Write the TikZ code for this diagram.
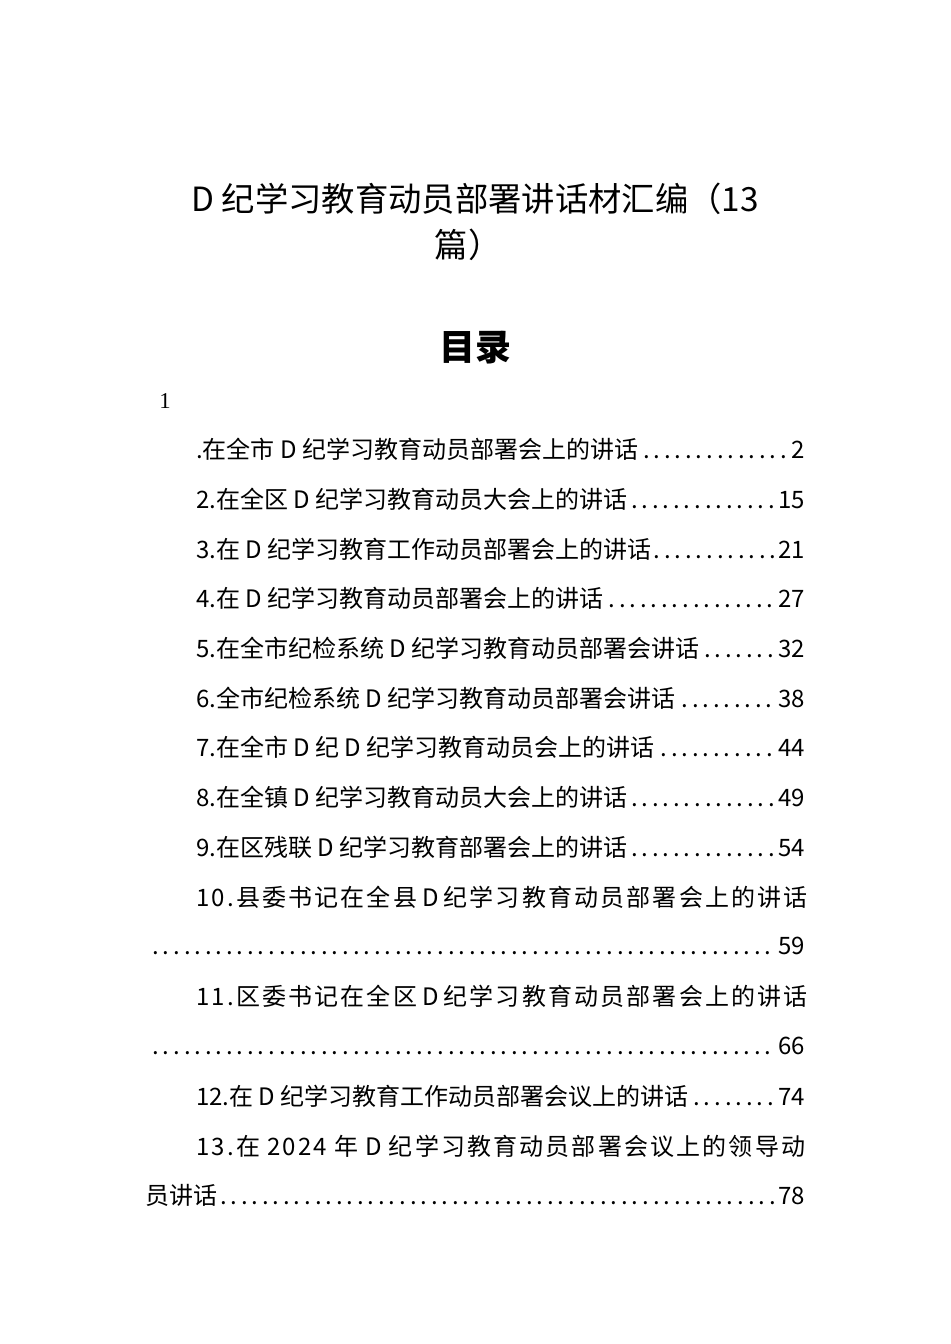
\documentclass[tikz,border=0pt]{standalone}
\usepackage{fontspec}
\setmainfont{Noto Sans CJK SC}
\newfontfamily\spaced[LetterSpace=9]{Noto Sans CJK SC}
\newfontfamily\serifnum{Liberation Serif}
\begin{document}
\begin{tikzpicture}[x=0.75pt,y=-0.75pt,
  toc/.style={anchor=base west,inner sep=0,font=\fontsize{18pt}{18pt}\selectfont}]
\useasboundingbox (0,0) rectangle (950,1344);
\node[font=\fontsize{25pt}{25pt}\selectfont,anchor=base] (t1) at (475,212) {D 纪学习教育动员部署讲话材汇编（13};
\node[font=\fontsize{25pt}{25pt}\selectfont,anchor=base] (t2) at (468,258) {篇）};
\node[font=\fontsize{27pt}{27pt}\selectfont\bfseries,anchor=base] (ml) at (475,360) {目录};
\node[font=\fontsize{17pt}{17pt}\serifnum,anchor=base] (n1) at (165,408) {1};
\newcommand\tl[3]{\node[toc] at (196,#1) {\makebox[456.75pt][s]{#2\dotfill#3}};}
\newcommand\tlfull[3]{\node[toc] at (145,#1) {\makebox[495pt][s]{#2\dotfill#3}};}
\tl{458}{.在全市 D 纪学习教育动员部署会上的讲话}{2}
\tl{508}{2.在全区 D 纪学习教育动员大会上的讲话}{15}
\tl{558}{3.在 D 纪学习教育工作动员部署会上的讲话}{21}
\tl{607}{4.在 D 纪学习教育动员部署会上的讲话}{27}
\tl{657}{5.在全市纪检系统 D 纪学习教育动员部署会讲话}{32}
\tl{707}{6.全市纪检系统 D 纪学习教育动员部署会讲话}{38}
\tl{756}{7.在全市 D 纪 D 纪学习教育动员会上的讲话}{44}
\tl{806}{8.在全镇 D 纪学习教育动员大会上的讲话}{49}
\tl{856}{9.在区残联 D 纪学习教育部署会上的讲话}{54}
\node[toc] at (196,906) {\makebox[456.75pt][s]{\spaced 10.县委书记在全县 D 纪学习教育动员部署会上的讲话}};
\tlfull{954}{}{59}
\node[toc] at (196,1005) {\makebox[456.75pt][s]{\spaced 11.区委书记在全区 D 纪学习教育动员部署会上的讲话}};
\tlfull{1054}{}{66}
\tl{1105}{12.在 D 纪学习教育工作动员部署会议上的讲话}{74}
\node[toc] at (196,1155) {\makebox[456.75pt][s]{\spaced 13.在 2024 年 D 纪学习教育动员部署会议上的领导动}};
\tlfull{1204}{员讲话}{78}
\end{tikzpicture}
\end{document}
